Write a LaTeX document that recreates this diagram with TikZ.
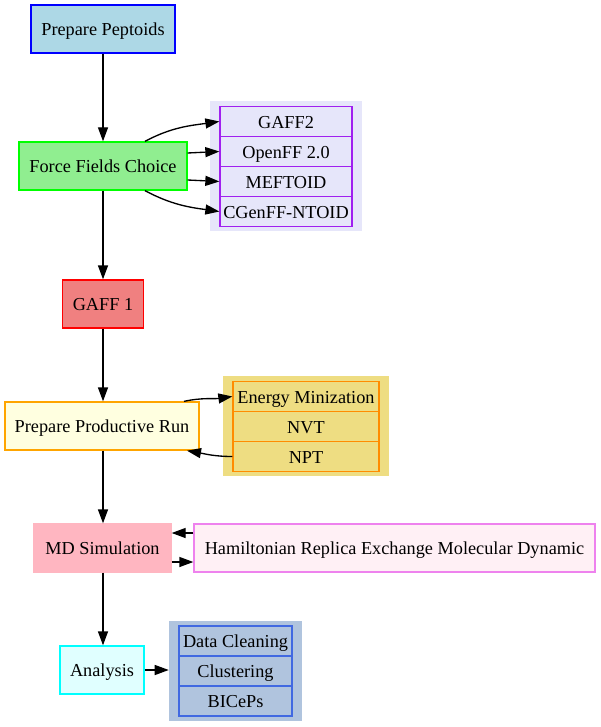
\documentclass[tikz,border=0pt]{standalone}
\usepackage{fontspec}
\setmainfont{Liberation Serif}
\usetikzlibrary{arrows.meta,calc}
\definecolor{cLightBlue}{HTML}{ADD8E6}
\definecolor{cBlue}{HTML}{0000FF}
\definecolor{cLightGreen}{HTML}{90EE90}
\definecolor{cGreen}{HTML}{00FF00}
\definecolor{cLavender}{HTML}{E6E6FA}
\definecolor{cPurple}{HTML}{A020F0}
\definecolor{cLightCoral}{HTML}{F08080}
\definecolor{cRed}{HTML}{FF0000}
\definecolor{cLightYellow}{HTML}{FFFFE0}
\definecolor{cOrange}{HTML}{FFA500}
\definecolor{cGold}{HTML}{EEDD82}
\definecolor{cDarkOrange}{HTML}{FF8C00}
\definecolor{cLightPink}{HTML}{FFB6C1}
\definecolor{cLavBlush}{HTML}{FFF0F5}
\definecolor{cViolet}{HTML}{EE82EE}
\definecolor{cLightCyan}{HTML}{E0FFFF}
\definecolor{cCyan}{HTML}{00FFFF}
\definecolor{cSteel}{HTML}{B0C4DE}
\definecolor{cRoyal}{HTML}{4169E1}
\tikzset{
  box/.style={rectangle, draw, line width=1pt, inner sep=0pt, minimum height=36pt,
    font=\fontsize{13.7pt}{16pt}\selectfont, text=black, text height=11pt, text depth=1pt},
  cell/.style={rectangle, draw, line width=1pt, inner sep=0pt, minimum height=22.5pt,
    font=\fontsize{13.7pt}{16pt}\selectfont, text=black, text height=11pt, text depth=1pt},
  cluster/.style={rectangle, inner sep=0pt},
  conn/.style={line width=1pt, -{Triangle[length=10.5pt,width=7.5pt]}}
}
\begin{document}
\begin{tikzpicture}[x=0.75pt,y=0.75pt]
\useasboundingbox (0,0) rectangle (600,-727);
% clusters
\node[cluster, fill=cLavender, minimum width=114pt, minimum height=97.5pt] (c1) at (286,-166) {};
\node[cluster, fill=cGold, minimum width=124.5pt, minimum height=75pt] (c2) at (306,-426) {};
\node[cluster, fill=cSteel, minimum width=99.75pt, minimum height=75pt] (c3) at (235.5,-671) {};
% main nodes
\node[box, fill=cLightBlue, draw=cBlue, minimum width=108pt] (pp) at (103,-29) {Prepare Peptoids};
\node[box, fill=cLightGreen, draw=cGreen, minimum width=126pt] (ffc) at (103,-166) {Force Fields Choice};
\node[box, fill=cLightCoral, draw=cRed, minimum width=60.75pt] (g1) at (103,-304) {GAFF 1};
\node[box, fill=cLightYellow, draw=cOrange, minimum width=145.5pt] (ppr) at (102,-426) {Prepare Productive Run};
\node[box, fill=cLightPink, draw=cLightPink, minimum width=102.75pt] (md) at (102.5,-548) {MD Simulation};
\node[box, fill=cLavBlush, draw=cViolet, minimum width=300.75pt] (ham) at (394.5,-548) {Hamiltonian Replica Exchange Molecular Dynamic};
\node[box, fill=cLightCyan, draw=cCyan, minimum width=63pt] (an) at (102,-670) {Analysis};
% cluster cells
\node[cell, draw=cPurple, minimum width=99pt] (gaff2) at (286,-121.5) {GAFF2};
\node[cell, draw=cPurple, minimum width=99pt] (off) at (286,-151.5) {OpenFF 2.0};
\node[cell, draw=cPurple, minimum width=99pt] (mef) at (286,-181.5) {MEFTOID};
\node[cell, draw=cPurple, minimum width=99pt] (cgen) at (286,-211.5) {CGenFF-NTOID};
\node[cell, draw=cDarkOrange, minimum width=109.5pt] (em) at (306,-396.5) {Energy Minization};
\node[cell, draw=cDarkOrange, minimum width=109.5pt] (nvt) at (306,-426.5) {NVT};
\node[cell, draw=cDarkOrange, minimum width=109.5pt] (npt) at (306,-456.5) {NPT};
\node[cell, draw=cRoyal, minimum width=84.75pt] (dc) at (235.5,-641) {Data Cleaning};
\node[cell, draw=cRoyal, minimum width=84.75pt] (cl) at (235.5,-671) {Clustering};
\node[cell, draw=cRoyal, minimum width=84.75pt] (bi) at (235.5,-701) {BICePs};
% connectors
\draw[conn] (pp.south) -- (ffc.north);
\draw[conn] ($(ffc.north)+(42,0)$) to[out=28,in=188] (gaff2.west);
\draw[conn] ($(ffc.east)+(0,13)$) -- (off.west);
\draw[conn] ($(ffc.east)+(0,-14)$) -- (mef.west);
\draw[conn] ($(ffc.south)+(42,0)$) to[out=-28,in=172] (cgen.west);
\draw[conn] (ffc.south) -- (g1.north);
\draw[conn] (g1.south) -- (g1.south |- ppr.north);
\draw[conn] ($(ppr.north)+(82,0)$) to[out=12,in=188] (em.west);
\draw[conn] (npt.west) to[out=180,in=-10] ($(ppr.south)+(85,0)$);
\draw[conn] (g1.south |- ppr.south) -- (g1.south |- md.north);
\draw[conn] ($(ham.west)+(0,15)$) -- ($(md.east)+(0,15)$);
\draw[conn] ($(md.east)+(0,-14)$) -- ($(ham.west)+(0,-14)$);
\draw[conn] (g1.south |- md.south) -- (g1.south |- an.north);
\draw[conn] (an.east) -- (an.east -| c3.west);
\end{tikzpicture}
\end{document}
